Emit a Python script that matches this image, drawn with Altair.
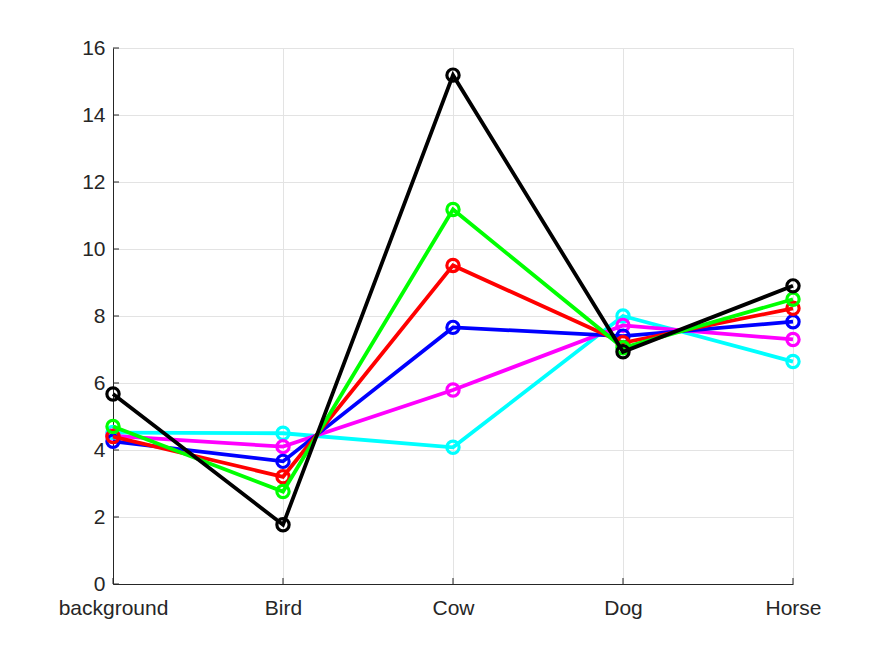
import altair as alt
import pandas as pd

# Categories along the x axis
categories = ["background", "Bird", "Cow", "Dog", "Horse"]

# One series per colour, drawn in this order (later ones on top)
series_names = ["cyan", "magenta", "blue", "red", "green", "black"]
series_colors = ["#00ffff", "#ff00ff", "#0000ff", "#ff0000", "#00ff00", "#000000"]
cyan_vals = [4.52, 4.50, 4.08, 8.00, 6.64]
magenta_vals = [4.42, 4.10, 5.79, 7.72, 7.30]
blue_vals = [4.26, 3.66, 7.66, 7.40, 7.83]
red_vals = [4.40, 3.20, 9.51, 7.20, 8.23]
green_vals = [4.70, 2.76, 11.18, 7.05, 8.50]
black_vals = [5.67, 1.77, 15.19, 6.93, 8.90]
series_values = [cyan_vals, magenta_vals, blue_vals, red_vals, green_vals, black_vals]

# Axis tick values
y_ticks = [0, 2, 4, 6, 8, 10, 12, 14, 16]

AXIS_COLOR = "#262626"
GRID_COLOR = "#e3e3e3"
FONT = "Liberation Sans"

x_scale = alt.Scale(type="point", domain=categories, padding=0)
y_scale = alt.Scale(domain=[0, 16], nice=False, zero=True)

x_axis = alt.Axis(
    title=None, grid=True, gridColor=GRID_COLOR, ticks=False,
    domainColor=AXIS_COLOR, labelColor=AXIS_COLOR, labelFont=FONT,
    labelFontSize=21, labelPadding=13, labelAngle=0,
)
y_axis = alt.Axis(
    title=None, values=y_ticks, grid=True, gridColor=GRID_COLOR, ticks=False,
    domainColor=AXIS_COLOR, labelColor=AXIS_COLOR, labelFont=FONT,
    labelFontSize=21, labelPadding=8,
)

layers = []

# Inward tick marks on both axes
yt_df = pd.DataFrame({"v": y_ticks})
layers.append(
    alt.Chart(yt_df).mark_rule(color=AXIS_COLOR, strokeWidth=1).encode(
        y=alt.Y("v:Q", scale=y_scale, axis=y_axis),
        x=alt.value(0), x2=alt.value(6),
    )
)
xt_df = pd.DataFrame({"c": categories})
layers.append(
    alt.Chart(xt_df).mark_rule(color=AXIS_COLOR, strokeWidth=1).encode(
        x=alt.X("c:N", scale=x_scale, axis=x_axis, sort=categories),
        y=alt.value(536), y2=alt.value(530),
    )
)

# Each series: a thick line with hollow circle markers
for name, color, vals in zip(series_names, series_colors, series_values):
    df = pd.DataFrame({"c": categories, "v": vals})
    base = alt.Chart(df).encode(
        x=alt.X("c:N", scale=x_scale, axis=x_axis, sort=categories),
        y=alt.Y("v:Q", scale=y_scale, axis=y_axis),
    )
    layers.append(base.mark_line(color=color, strokeWidth=3.8))
    layers.append(
        base.mark_point(color=color, filled=False, size=150, strokeWidth=3.2, opacity=1)
    )

chart = alt.layer(*layers).properties(
    width=680,
    height=536,
    padding={"left": 113, "top": 48, "right": 82, "bottom": 73},
    autosize=alt.AutoSizeParams(type="none"),
    background="white",
).configure_view(stroke=None)

chart.save("out.html", embed_options={"renderer": "svg", "actions": False})
